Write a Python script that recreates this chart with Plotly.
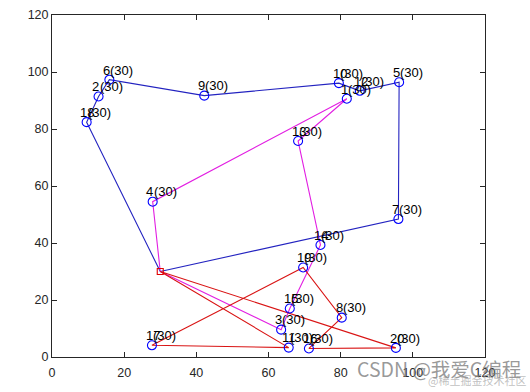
import plotly.graph_objects as go

# Customer nodes (id, x, y); demand of each is 30
node_ids = list(range(1, 21))
node_x = [81.7, 12.9, 63.5, 27.9, 96.2, 15.9, 96.0, 80.3, 42.2, 79.5,
          65.6, 85.3, 68.2, 74.4, 65.9, 71.2, 27.7, 9.6, 69.6, 95.3]
node_y = [90.6, 91.4, 9.6, 54.5, 96.4, 97.3, 48.4, 13.8, 91.7, 96.1,
          3.3, 93.4, 75.8, 39.3, 17.0, 3.0, 4.1, 82.4, 31.4, 3.2]
demand = [30] * 20

depot_x = 30.0
depot_y = 30.0

# Routes (0 = depot)
route_blue = [0, 7, 5, 12, 10, 9, 6, 2, 18, 0]
route_magenta = [0, 3, 15, 14, 13, 1, 4, 0]
route_red = [0, 11, 17, 19, 8, 16, 20, 0]

routes = [(route_blue, "#2323c0"), (route_magenta, "#e21ee2"), (route_red, "#d91414")]

x_ticks = [0, 20, 40, 60, 80, 100, 120]
y_ticks = [0, 20, 40, 60, 80, 100, 120]


def coord(i):
    if i == 0:
        return depot_x, depot_y
    return node_x[i - 1], node_y[i - 1]


fig = go.Figure()

for route, color in routes:
    xs = [coord(i)[0] for i in route]
    ys = [coord(i)[1] for i in route]
    fig.add_trace(go.Scatter(x=xs, y=ys, mode="lines",
                             line=dict(color=color, width=1.1),
                             hoverinfo="skip", showlegend=False))

fig.add_trace(go.Scatter(x=node_x, y=node_y, mode="markers",
                         marker=dict(symbol="circle-open", size=9,
                                     color="#0000ff", line=dict(width=1.1)),
                         showlegend=False))

fig.add_trace(go.Scatter(x=[depot_x], y=[depot_y], mode="markers",
                         marker=dict(symbol="square-open", size=6,
                                     color="#e00000", line=dict(width=1.1)),
                         showlegend=False))

font = dict(family="Liberation Sans, Arial, sans-serif", size=13, color="black")
for i, x, y, d in zip(node_ids, node_x, node_y, demand):
    fig.add_annotation(x=x - 2, y=y + 3.4, text=str(i), showarrow=False,
                       xanchor="left", yanchor="middle", font=font,
                       borderpad=0)
    fig.add_annotation(x=x, y=y + 3.4, text="(%d)" % d, showarrow=False,
                       xanchor="left", yanchor="middle", font=font,
                       borderpad=0)

# watermark
fig.add_annotation(x=0.70, y=-0.033, xref="paper", yref="paper", text="CSDN @我爱C编程",
                   showarrow=False, xanchor="left", yanchor="middle",
                   font=dict(family="Noto Sans CJK SC, sans-serif", size=19.5,
                             color="rgba(120,120,120,0.75)"))
fig.add_annotation(x=0.864, y=-0.068, xref="paper", yref="paper", text="@稀土掘金技术社区",
                   showarrow=False, xanchor="left", yanchor="middle",
                   font=dict(family="Noto Sans CJK SC, sans-serif", size=11,
                             color="rgba(150,150,150,0.6)"))

axis_common = dict(showline=True, linecolor="#262626", linewidth=1, mirror="ticks",
                   ticks="inside", ticklen=5, tickcolor="#262626", tickwidth=1,
                   showgrid=False, zeroline=False, automargin=False,
                   tickfont=dict(family="Liberation Sans, Arial, sans-serif",
                                 size=12.5, color="#262626"))

fig.update_layout(
    width=530, height=392,
    margin=dict(l=52, r=45, t=15, b=35),
    paper_bgcolor="white", plot_bgcolor="white",
    xaxis=dict(range=[0, 120], tickvals=x_ticks, ticktext=[str(v) for v in x_ticks],
               ticklabelstandoff=4, **axis_common),
    yaxis=dict(range=[0, 120], tickvals=y_ticks, ticktext=[str(v) for v in y_ticks], **axis_common),
)

fig.write_html("out.html", config={"displayModeBar": False},
               post_script="document.body.style.margin='0';")
